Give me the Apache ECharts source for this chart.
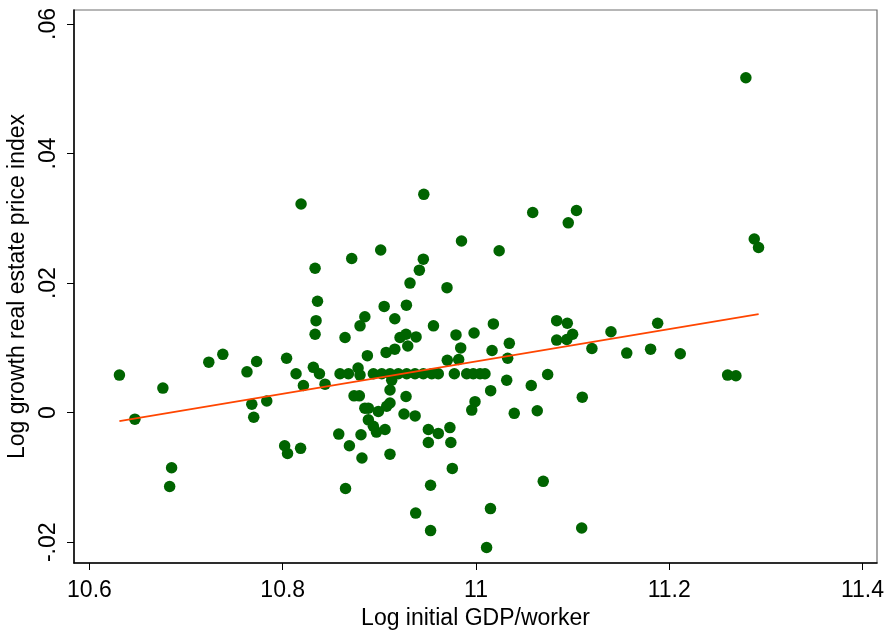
<!DOCTYPE html>
<html>
<head>
<meta charset="utf-8">
<script src="https://cdn.jsdelivr.net/npm/echarts@6/dist/echarts.min.js"></script>
<style>html,body{margin:0;padding:0;background:#fff}#c{width:888px;height:630px}</style>
</head>
<body>
<div id="c"></div>
<script>
var xTicks = [10.6, 10.8, 11, 11.2, 11.4];
var yTicks = [-0.02, 0, 0.02, 0.04, 0.06];

var gdpX = [
10.631, 10.676, 10.647, 10.7235, 10.738, 10.763, 10.773, 10.804, 10.768, 10.7835,
10.770, 10.685, 10.683, 10.802, 10.805, 10.8185, 10.858, 10.869, 10.881, 10.882,
10.865, 10.897, 10.911, 10.9255, 10.937, 10.9507, 10.961, 10.973, 10.9507, 10.974,
10.9755, 10.953, 10.9376, 10.953, 11.011, 11.015, 10.9956, 10.999, 11.0396, 11.0634,
11.0696, 11.1094, 11.110, 10.819, 10.946, 10.8335, 10.8714, 10.9014, 10.9455, 10.9414,
10.9317, 10.836, 10.8345, 10.905, 10.928, 10.885, 10.916, 10.880, 10.956, 11.0587,
10.985, 11.024, 10.970, 11.018, 11.0835, 11.104, 11.0955, 11.288, 11.2924, 11.0945,
11.188, 11.0835, 11.094, 11.100, 11.1397, 11.120, 11.156, 11.1807, 11.2114, 11.2604,
11.269, 11.0742, 11.0572, 11.2793, 10.8335, 10.8645, 10.9214, 10.9276, 10.938, 10.9294,
10.916, 10.907, 10.8876, 10.8138, 10.8317, 10.838, 10.8214, 10.8438, 10.8593, 10.868,
10.878, 10.880, 10.8938, 10.9025, 10.911, 10.9196, 10.9283, 10.9369, 10.9455, 10.9542,
10.961, 10.9128, 10.911, 10.8738, 10.8793, 10.9276, 10.885, 10.8886, 10.899, 10.9076,
10.911, 10.8886, 10.8938, 10.9059, 10.9793, 10.998, 10.9842, 11.0345, 11.0166, 10.9703,
10.9821, 11.0328, 10.9776, 10.9904, 10.9972, 11.0042, 11.0093, 11.0318, 11.0152
];
var priceY = [
0.0058, 0.0038, -0.0010, 0.0078, 0.0090, 0.0063, 0.0079, 0.0084, 0.0013, 0.0018,
-0.0007, -0.0085, -0.0114, -0.0051, -0.0063, -0.0055, -0.0033, -0.0051, -0.0034, -0.0070,
-0.0117, -0.0030, -0.0064, -0.0002, -0.0005, -0.0026, -0.0032, -0.0023, -0.0046, -0.0046,
-0.0086, -0.0112, -0.0155, -0.0182, -0.0208, -0.0148, 0.0004, 0.0017, -0.0001, 0.0003,
-0.0106, -0.0178, 0.0024, 0.0322, 0.0337, 0.0223, 0.0238, 0.0251, 0.0237, 0.0220,
0.0200, 0.0172, 0.0142, 0.0164, 0.0166, 0.0148, 0.0145, 0.0134, 0.0134, 0.0309,
0.0265, 0.0250, 0.0193, 0.0137, 0.0142, 0.0312, 0.0293, 0.0268, 0.0255, 0.0138,
0.0138, 0.0112, 0.0113, 0.0121, 0.0125, 0.0099, 0.0092, 0.0098, 0.0091, 0.0058,
0.0057, 0.0059, 0.0042, 0.0517, 0.0121, 0.0116, 0.0116, 0.0121, 0.0117, 0.0103,
0.0098, 0.0093, 0.0088, 0.0060, 0.0070, 0.0060, 0.0042, 0.0044, 0.0060, 0.0060,
0.0069, 0.0058, 0.0060, 0.0060, 0.0060, 0.0060, 0.0060, 0.0060, 0.0060, 0.0060,
0.0060, 0.0050, 0.0035, 0.0026, 0.0026, 0.0025, 0.0007, 0.0007, 0.0002, 0.0010,
0.0015, -0.0011, -0.0021, -0.0026, 0.0120, 0.0123, 0.0100, 0.0107, 0.0096, 0.0081,
0.0082, 0.0084, 0.0060, 0.0060, 0.0060, 0.0060, 0.0060, 0.0050, 0.0034
];

var fitX = [10.631, 11.2925];
var fitY = [-0.0013, 0.0152];

var pts = gdpX.map(function (x, i) { return [x, priceY[i]]; });
var fit = fitX.map(function (x, i) { return [x, fitY[i]]; });

var FONT = 'Liberation Sans, Arial, sans-serif';
var chart = echarts.init(document.getElementById('c'), null, {renderer: 'canvas'});
chart.setOption({
  animation: false,
  backgroundColor: '#ffffff',
  grid: {left: 74, right: 11, top: 10, bottom: 67, show: true, borderColor: '#6e6e6e', borderWidth: 1.2,
    backgroundColor: '#ffffff', containLabel: false, outerBoundsMode: 'none'},
  xAxis: {
    type: 'value', min: 10.584, max: 11.415,
    name: 'Log initial GDP/worker', nameLocation: 'middle', nameGap: 39,
    nameTextStyle: {fontSize: 23, color: '#000', fontFamily: FONT},
    axisLine: {show: true, onZero: false, lineStyle: {color: '#000', width: 1.5}},
    axisTick: {show: true, customValues: xTicks, length: 7, lineStyle: {color: '#000', width: 1}},
    axisLabel: {customValues: xTicks, fontSize: 23, color: '#000', fontFamily: FONT, margin: 16,
      formatter: function (v) { return String(+(+v).toFixed(1)); }},
    splitLine: {show: false}
  },
  yAxis: {
    type: 'value', min: -0.0232, max: 0.06215,
    name: 'Log growth real estate price index', nameLocation: 'middle', nameGap: 36,
    nameTextStyle: {fontSize: 23, color: '#000', fontFamily: FONT},
    axisLine: {show: true, onZero: false, lineStyle: {color: '#000', width: 1.5}},
    axisTick: {show: true, customValues: yTicks, length: 7, lineStyle: {color: '#000', width: 1}},
    axisLabel: {customValues: yTicks, fontSize: 23, color: '#000', fontFamily: FONT, margin: 14, rotate: 90,
      formatter: function (v) {
        var n = +(+v).toFixed(2);
        if (n === 0) return '0';
        return n.toFixed(2).replace('0.', '.');
      }},
    splitLine: {show: false}
  },
  series: [
    {type: 'scatter', data: pts, symbol: 'circle', symbolSize: 11.5,
      itemStyle: {color: '#006400', opacity: 1}, z: 2},
    {type: 'line', data: fit, showSymbol: false, symbol: 'none',
      lineStyle: {color: '#FF4500', width: 1.8}, z: 3}
  ]
});
</script>
</body>
</html>
